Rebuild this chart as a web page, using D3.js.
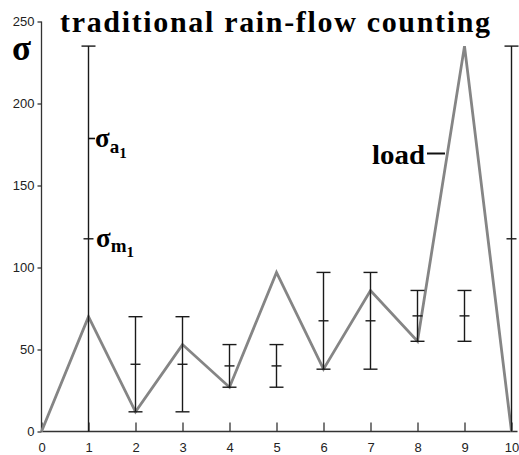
<!DOCTYPE html>
<html><head><meta charset="utf-8">
<script src="https://cdn.jsdelivr.net/npm/d3@7"></script>
<style>
html,body{margin:0;padding:0;background:#fff;}
svg{display:block;}
</style></head>
<body>
<script>
// ---- data ----
const loadX = [0,1,2,3,4,5,6,7,8,9,10];
const loadY = [0,70,12,53,27,97,38,86,55,235,0];
const barX = [1,2,3,4,5,6,7,8,9,10];
const barLow = [0,12,12,27,27,38,38,55,55,0];
const barHigh = [235,70,70,53,53,97,97,86,86,235];
const xTicks = [0,1,2,3,4,5,6,7,8,9,10];
const yTicks = [0,50,100,150,200,250];
const titleText = "traditional rain-flow counting";

const W = 519, H = 455;
const svg = d3.select("body").append("svg").attr("width", W).attr("height", H);

const x = d3.scaleLinear().domain([0,10]).range([41.5, 511.5]);
const y = d3.scaleLinear().domain([0,250]).range([431.5, 21.5]);

const axisColor = "#333";

// y axis
const gy = svg.append("g").attr("transform", "translate(41.5,0)")
  .call(d3.axisLeft(y).tickValues(yTicks).tickSize(4).tickSizeOuter(0).tickPadding(3));
gy.selectAll("path,line").attr("stroke", axisColor).attr("stroke-width",1.3);
gy.selectAll("text").attr("font-family","'Liberation Sans', Arial, sans-serif").attr("font-size",13).attr("fill","#222");
gy.select(".domain").attr("d", `M0,${y(250)}V${y(0)}`);

// x axis
const gx = svg.append("g").attr("transform", "translate(0,431.5)")
  .call(d3.axisBottom(x).tickValues(xTicks).tickSize(-9).tickSizeOuter(0).tickPadding(11));
gx.selectAll("path,line").attr("stroke", axisColor).attr("stroke-width",1.3);
gx.selectAll("text").attr("font-family","'Liberation Sans', Arial, sans-serif").attr("font-size",13).attr("fill","#222");
gx.select(".domain").attr("d", `M${x(0)},0H${x(10)+6}`);

// load line
const line = d3.line().x((d,i)=>x(loadX[i])).y(d=>y(d));
svg.append("path").datum(loadY).attr("d", line)
  .attr("fill","none").attr("stroke","#858585").attr("stroke-width",2.8).attr("stroke-linejoin","miter");

// range bars
const bars = svg.append("g").attr("stroke","#1a1a1a").attr("stroke-width",1.4);
barX.forEach((bx,i)=>{
  const lo = barLow[i], hi = barHigh[i], mid = (lo+hi)/2;
  const cx = x(bx);
  bars.append("line").attr("x1",cx).attr("x2",cx).attr("y1",y(hi)).attr("y2",y(lo));
  bars.append("line").attr("x1",cx-7).attr("x2",cx+7).attr("y1",y(hi)).attr("y2",y(hi));
  if (lo > 0) bars.append("line").attr("x1",cx-7).attr("x2",cx+7).attr("y1",y(lo)).attr("y2",y(lo));
  bars.append("line").attr("x1",cx-5).attr("x2",cx+5).attr("y1",y(mid)).attr("y2",y(mid));
});

const serif = "'Liberation Serif', 'Times New Roman', serif";

// title
svg.append("text").attr("x",60).attr("y",32).attr("font-family",serif).attr("font-weight","bold")
  .attr("font-size",30).attr("textLength",430).attr("lengthAdjust","spacing").text(titleText);

// big sigma
svg.append("text").attr("x",12).attr("y",60).attr("font-family",serif).attr("font-weight","bold")
  .attr("font-size",35).text("σ");

// sigma_a1 label
svg.append("line").attr("x1",88).attr("x2",95).attr("y1",138.5).attr("y2",138.5).attr("stroke","#111").attr("stroke-width",1.6);
const ta = svg.append("text").attr("x",95).attr("y",147).attr("font-family",serif).attr("font-weight","bold").attr("font-size",27);
ta.append("tspan").text("σ");
ta.append("tspan").attr("font-size",19).attr("dy",6).text("a");
ta.append("tspan").attr("font-size",15).attr("dy",5).text("1");

// sigma_m1 label
const tm = svg.append("text").attr("x",96).attr("y",247).attr("font-family",serif).attr("font-weight","bold").attr("font-size",27);
tm.append("tspan").text("σ");
tm.append("tspan").attr("font-size",19).attr("dy",5).text("m");
tm.append("tspan").attr("font-size",15).attr("dy",5).text("1");

// load label
svg.append("text").attr("x",372).attr("y",164).attr("font-family",serif).attr("font-weight","bold")
  .attr("font-size",28).attr("textLength",53).attr("lengthAdjust","spacingAndGlyphs").text("load");
svg.append("line").attr("x1",427).attr("x2",445).attr("y1",153.5).attr("y2",153.5).attr("stroke","#111").attr("stroke-width",2);
</script>
</body></html>
